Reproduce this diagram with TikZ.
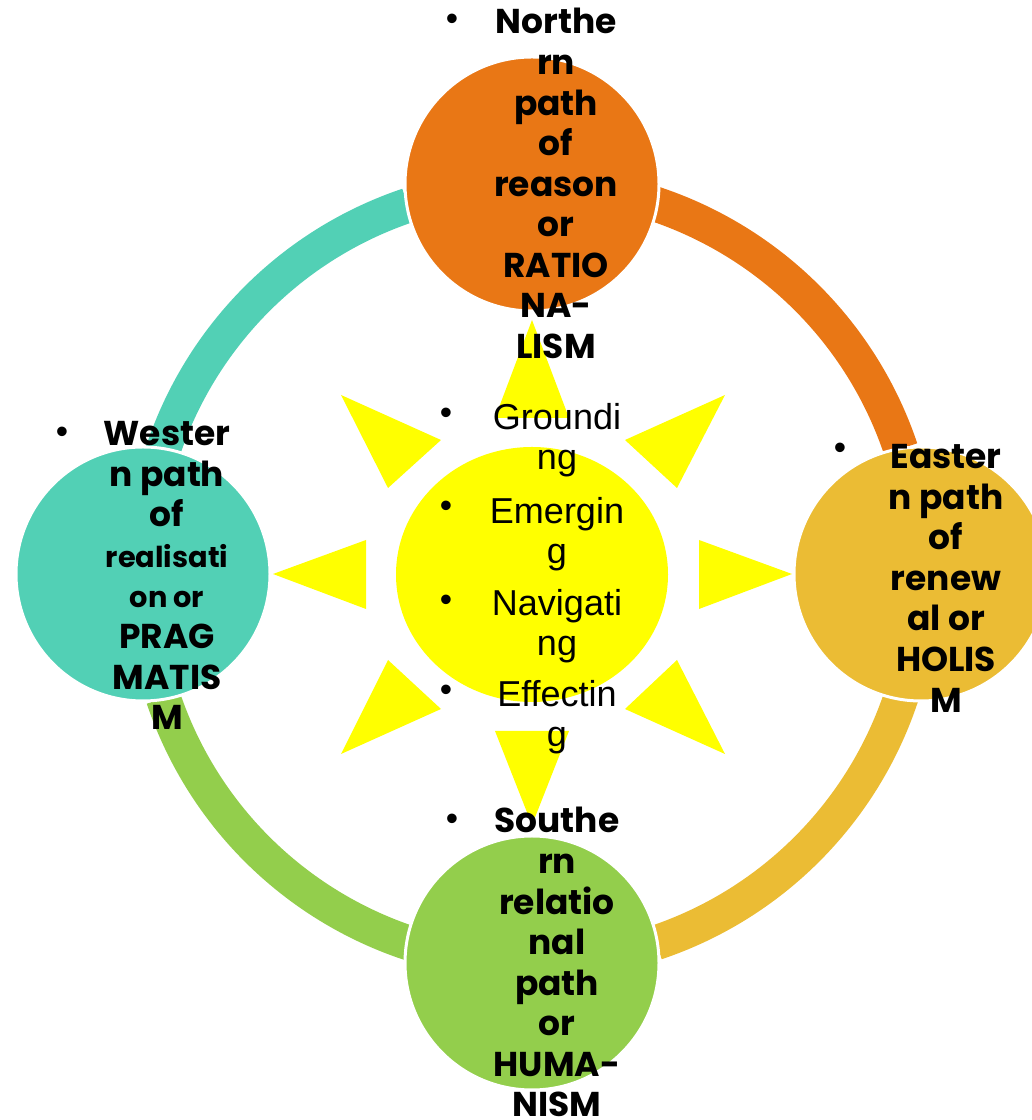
\documentclass[tikz,border=0pt]{standalone}
\usepackage{fontspec}
\setmainfont{Liberation Sans}
\newfontfamily\pathfont{Poppins}
\usetikzlibrary{shapes.geometric,backgrounds}

\definecolor{northcol}{HTML}{E97715}
\definecolor{eastcol}{HTML}{EBBC34}
\definecolor{southcol}{HTML}{93CE4C}
\definecolor{westcol}{HTML}{52D0B5}
\definecolor{suncol}{HTML}{FFFF00}

\begin{document}
\begin{tikzpicture}[main/.style = {circle, draw=white, line width=0.06cm, minimum size=5.08cm, inner sep=0pt},
  band/.style = {line width=0.7cm},
  ray/.style = {fill=suncol},
  pathtext/.style = {font=\pathfont\bfseries\fontsize{19.6}{23.1}\selectfont, align=center, inner sep=0pt, anchor=north},
  listtext/.style = {font=\fontsize{20.5}{22.8}\selectfont, align=center, inner sep=0pt, anchor=north},
  bullet/.style = {font=\fontsize{20}{20}\selectfont, inner sep=0pt}]
\useasboundingbox (0,0) rectangle (20.64,22.4);

\node[main, fill=northcol] (north) at (10.64,18.72) {};
\node[main, fill=eastcol] (east) at (18.42,10.92) {};
\node[main, fill=southcol] (south) at (10.64,3.14) {};
\node[main, fill=westcol] (west) at (2.86,10.92) {};

% ring between the four paths
\begin{scope}[on background layer]
\draw[band, northcol] (north.center) arc[start angle=90, end angle=18.6, radius=7.78cm];
\draw[band, eastcol] (east.center) arc[start angle=0, end angle=-71.4, radius=7.78cm];
\draw[band, southcol] (south.center) arc[start angle=270, end angle=198.6, radius=7.78cm];
\draw[band, westcol] (west.center) arc[start angle=180, end angle=108.6, radius=7.78cm];
\end{scope}

% sun
\node[ellipse, fill=suncol, minimum width=5.44cm, minimum height=5.1cm, inner sep=0pt] (sun) at (10.64,10.91) {};
\fill[ray] (13.98,11.60) -- (13.98,10.22) -- (15.84,10.92) -- cycle;
\fill[ray] (7.32,11.60) -- (7.32,10.22) -- (5.46,10.92) -- cycle;
\fill[ray] (9.90,14.04) -- (11.38,14.04) -- (10.64,16.00) -- cycle;
\fill[ray] (9.90,7.78) -- (11.38,7.78) -- (10.64,5.90) -- cycle;
\fill[ray] (8.82,13.60) -- (7.76,12.64) -- (6.82,14.50) -- cycle;
\fill[ray] (12.50,13.60) -- (13.54,12.64) -- (14.50,14.50) -- cycle;
\fill[ray] (7.76,9.20) -- (8.82,8.22) -- (6.82,7.32) -- cycle;
\fill[ray] (13.54,9.20) -- (12.50,8.22) -- (14.50,7.32) -- cycle;

% texts
\node[pathtext] (ntext) at (11.12,22.24) {Northe\\rn\\path\\of\\reason\\or\\RATIO\\NA-\\LISM};
\node[pathtext] (etext) at (18.92,13.52) {Easter\\n path\\of\\renew\\al or\\HOLIS\\M};
\node[pathtext] (stext) at (11.14,6.26) {Southe\\rn\\relatio\\nal\\path\\or\\HUMA-\\NISM};
\node[pathtext] (wtext) at (3.34,13.98) {Wester\\n path\\of\\{\fontsize{16.4}{23.1}\selectfont realisati}\\{\fontsize{16.4}{23.1}\selectfont on or}\\PRAG\\MATIS\\M};
\node[bullet] (nb) at (9.04,21.96) {•};
\node[bullet] (eb) at (16.80,13.38) {•};
\node[bullet] (sb) at (9.04,5.96) {•};
\node[bullet] (wb) at (1.24,13.70) {•};

\node[listtext] (l1) at (11.14,14.34) {Groundi\\ng};
\node[listtext] (l2) at (11.14,12.46) {Emergin\\g};
\node[listtext] (l3) at (11.14,10.62) {Navigati\\ng};
\node[listtext] (l4) at (11.14,8.80) {Effectin\\g};
\node[bullet] (b1) at (8.92,14.08) {•};
\node[bullet] (b2) at (8.92,12.22) {•};
\node[bullet] (b3) at (8.92,10.34) {•};
\node[bullet] (b4) at (8.92,8.54) {•};

\end{tikzpicture}
\end{document}
